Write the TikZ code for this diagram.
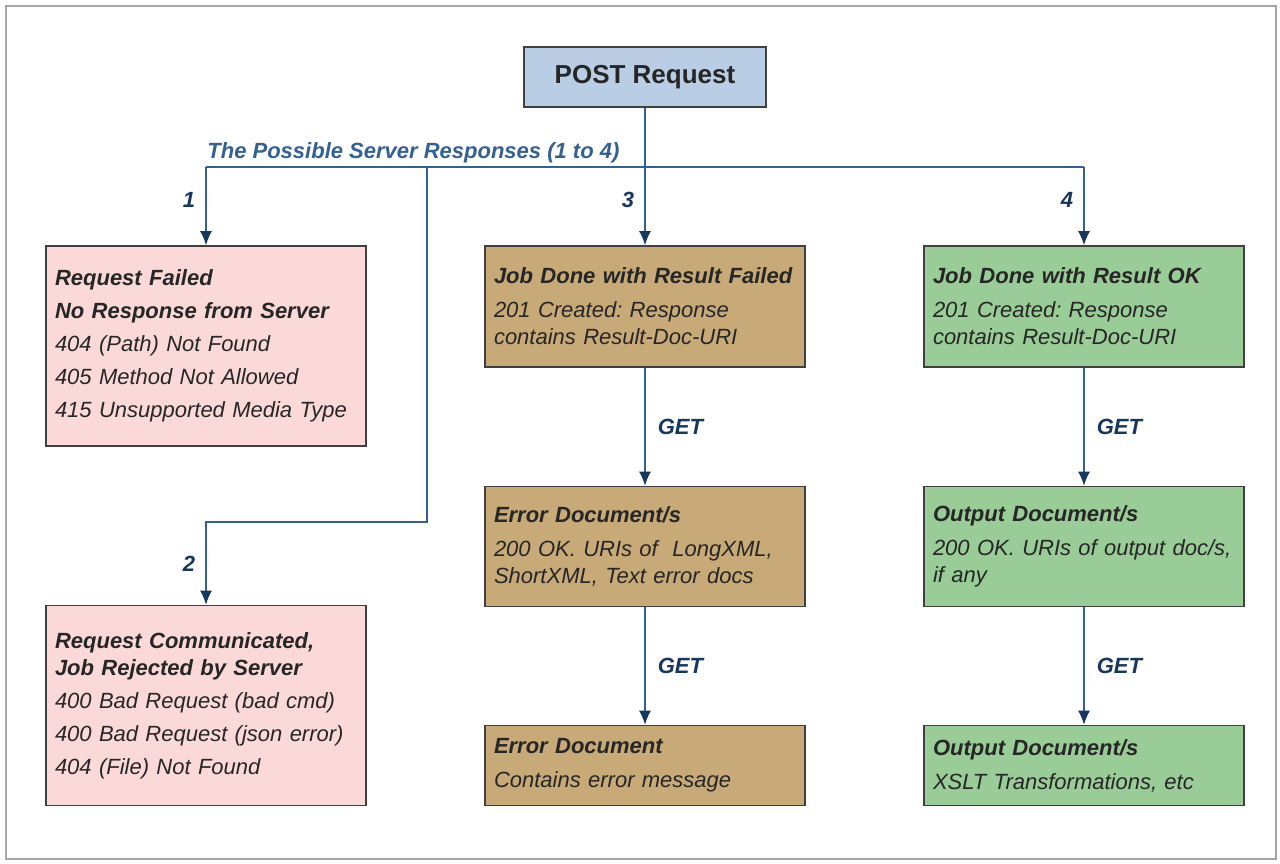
\documentclass[tikz,border=0pt]{standalone}
\usepackage{fontspec}
\setmainfont{Liberation Sans}
\frenchspacing
\usetikzlibrary{arrows.meta,positioning}
\definecolor{postblue}{RGB}{185,205,229}
\definecolor{failpink}{RGB}{252,217,217}
\definecolor{errtan}{RGB}{200,169,120}
\definecolor{okgreen}{RGB}{153,204,150}
\definecolor{linkblue}{RGB}{52,96,146}
\definecolor{headblue}{RGB}{23,55,94}
\definecolor{edgegray}{RGB}{64,64,64}
\definecolor{inkgray}{RGB}{38,38,38}
\tikzset{%
	box/.style     = {draw=edgegray, line width=0.8pt, rectangle, align=left, text width=151pt, inner xsep=4.5pt, inner ysep=0pt, text=inkgray, font=\fontsize{11}{13.5}\selectfont\itshape},
	failbox/.style = {box, fill=failpink, minimum height=100pt},
	errbox/.style  = {box, fill=errtan},
	okbox/.style   = {box, fill=okgreen},
	postbox/.style = {draw=edgegray, line width=0.8pt, fill=postblue, minimum width=121pt, minimum height=30pt, text=inkgray, font=\fontsize{13}{15}\selectfont\bfseries},
	arrow/.style   = {line width=0.8pt, draw=linkblue, -{Latex[length=7pt,width=6pt,color=headblue]}},
	bus/.style     = {line width=0.8pt, draw=linkblue},
	tag/.style     = {inner sep=0pt, text=headblue, font=\fontsize{11}{13}\selectfont\bfseries\itshape},
}
\newcommand{\hd}[1]{{\bfseries #1}}
\begin{document}
\begin{tikzpicture}[x=0.5pt,y=-0.5pt]
	\useasboundingbox (0,0) rectangle (1280,863);
	\draw[gray!70, line width=1.2pt] (6,6) rectangle (1276,859);
	% request and the split of responses
	\node[postbox] (post) at (645,77) {POST Request};
	\node[tag, anchor=base west, text=linkblue] (caption) at (207,158) {The Possible Server Responses (1 to 4)};
	\coordinate (split1) at (206,167);
	\coordinate (split2) at (427,167);
	\coordinate (split4) at (1084,167);
	\coordinate (bend2) at (427,522);
	% response boxes
	\node[failbox] (failed) at (206,346) {\hd{Request Failed}\\[3pt] \hd{No Response from Server}\\[3pt] 404 (Path) Not Found\\[3pt] 405 Method Not Allowed\\[3pt] 415 Unsupported Media Type};
	\node[failbox] (rejected) at (206,705.5) {\hd{Request Communicated,}\\ \hd{Job Rejected by Server}\\[3pt] 400 Bad Request (bad cmd)\\[3pt] 400 Bad Request (json error)\\[3pt] 404 (File) Not Found};
	\node[errbox, minimum height=60.5pt] (jobfail) at (645,306.5) {\hd{Job Done with Result Failed}\\[3.5pt] 201 Created: Response\\ contains Result-Doc-URI};
	\node[errbox, minimum height=60pt] (errdocs) at (645,546.5) {\hd{Error Document/s}\\[3.5pt] 200 OK. URIs of~ LongXML,\\ ShortXML, Text error docs};
	\node[errbox, minimum height=40pt] (errdoc) at (645,765.5) {\hd{Error Document}\\[3.5pt] Contains error message};
	\node[okbox, minimum height=60.5pt] (jobok) at (1084,306.5) {\hd{Job Done with Result OK}\\[3.5pt] 201 Created: Response\\ contains Result-Doc-URI};
	\node[okbox, minimum height=60pt] (outdocs) at (1084,546.5) {\hd{Output Document/s}\\[3.5pt] 200 OK. URIs of output doc/s,\\ if any};
	\node[okbox, minimum height=40pt] (outxslt) at (1084,765.5) {\hd{Output Document/s}\\[3.5pt] XSLT Transformations, etc};
	% connectors
	\draw[bus] (split1) -- (split4);
	\draw[arrow] (split1) -- node[tag, pos=0.42, left=5pt] {1} (failed);
	\draw[arrow] (split2) -- (bend2) -| node[tag, pos=0.75, left=5pt] {2} (rejected);
	\draw[arrow] (post) -- node[tag, pos=0.67, left=5pt] {3} (jobfail);
	\draw[arrow] (split4) -- node[tag, pos=0.42, left=5pt] {4} (jobok);
	\draw[arrow] (jobfail) -- node[tag, right=6pt] {GET} (errdocs);
	\draw[arrow] (errdocs) -- node[tag, right=6pt] {GET} (errdoc);
	\draw[arrow] (jobok) -- node[tag, right=6pt] {GET} (outdocs);
	\draw[arrow] (outdocs) -- node[tag, right=6pt] {GET} (outxslt);
\end{tikzpicture}
\end{document}
